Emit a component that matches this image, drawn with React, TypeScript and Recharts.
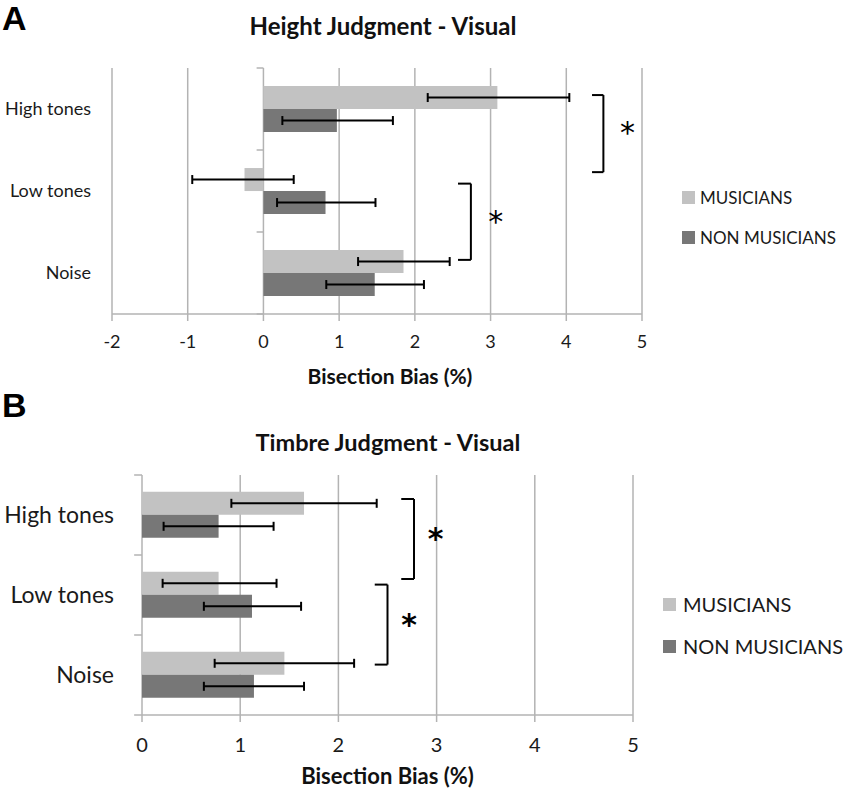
import React from 'react';
import {
  BarChart,
  Bar,
  XAxis,
  YAxis,
  CartesianGrid,
  ErrorBar,
  ReferenceLine,
  ReferenceDot,
  Legend,
  Label,
} from 'recharts';

// ---------- data ----------
const categories = ['High tones', 'Low tones', 'Noise'];
const seriesNames = ['MUSICIANS', 'NON MUSICIANS'];

// Panel A – Height judgment
const heightMusicians = [3.09, -0.25, 1.85];
const heightMusiciansLow = [2.17, -0.94, 1.25];
const heightMusiciansHigh = [4.04, 0.4, 2.46];
const heightNon = [0.97, 0.82, 1.47];
const heightNonLow = [0.25, 0.18, 0.83];
const heightNonHigh = [1.71, 1.48, 2.12];
const heightTicks = [-2, -1, 0, 1, 2, 3, 4, 5];

// Panel B – Timbre judgment
const timbreMusicians = [1.65, 0.78, 1.45];
const timbreMusiciansLow = [0.91, 0.21, 0.74];
const timbreMusiciansHigh = [2.39, 1.37, 2.16];
const timbreNon = [0.78, 1.12, 1.14];
const timbreNonLow = [0.22, 0.63, 0.63];
const timbreNonHigh = [1.34, 1.62, 1.65];
const timbreTicks = [0, 1, 2, 3, 4, 5];

// significance brackets (x in % units, y in category units from top)
const heightBrackets = [
  { tip: 4.34, spine: 4.49, from: 0.33, to: 1.27, starX: 4.81, starY: 0.72 },
  { tip: 2.57, spine: 2.74, from: 1.41, to: 2.34, starX: 3.07, starY: 1.81 },
];
const timbreBrackets = [
  { tip: 2.64, spine: 2.77, from: 0.3, to: 1.3, starX: 2.99, starY: 0.73 },
  { tip: 2.37, spine: 2.5, from: 1.37, to: 2.37, starX: 2.72, starY: 1.8 },
];
const categoryBoundaries = [0, 1, 2, 3];

// ---------- styles ----------
const FONT = 'Lato, "Open Sans", sans-serif';
const LIGHT = '#c2c2c2';
const DARK = '#777777';
const GRID = '#b3b3b3';
const TEXT = '#1a1a1a';

function buildRows(m, mLow, mHigh, n, nLow, nHigh) {
  return categories.map((cat, i) => ({
    cat,
    slot: i + 0.5,
    m: m[i],
    mErr: [m[i] - mLow[i], mHigh[i] - m[i]],
    n: n[i],
    nErr: [n[i] - nLow[i], nHigh[i] - n[i]],
  }));
}

const heightRows = buildRows(
  heightMusicians, heightMusiciansLow, heightMusiciansHigh,
  heightNon, heightNonLow, heightNonHigh
);
const timbreRows = buildRows(
  timbreMusicians, timbreMusiciansLow, timbreMusiciansHigh,
  timbreNon, timbreNonLow, timbreNonHigh
);

const makeLegend = (fontSize: number, rowH: number, gap: number) => (props: any) => (
  <div style={{ fontFamily: FONT }}>
    {(props.payload || []).map((e: any) => (
      <div key={e.value} style={{ display: 'flex', alignItems: 'center', height: rowH }}>
        <span
          style={{ display: 'inline-block', width: 13, height: 13, background: e.color, marginRight: gap }}
        />
        <span style={{ fontSize, color: TEXT, whiteSpace: 'nowrap' }}>{e.value}</span>
      </div>
    ))}
  </div>
);

const makeStar = (fs: number, weight: number) => (p: any) => (
  <text
    x={p.cx}
    y={p.cy + fs * 0.52}
    textAnchor="middle"
    fontSize={fs}
    fontWeight={weight}
    fontFamily="DejaVu Sans, sans-serif"
    fill="#000"
  >
    *
  </text>
);

type PanelProps = {
  rows: any[];
  height: number;
  margin: any;
  yWidth: number;
  domain: [number, number];
  ticks: number[];
  tickFont: number;
  tickMargin: number;
  catFont: number;
  catMargin: number;
  gap: string;
  titleFont: number;
  titleOffset: number;
  titleDx: number;
  brackets: any[];
  boundaryLen: number;
  starFont: number;
  starWeight: number;
  legendFont: number;
  legendRow: number;
  legendGap: number;
  legendLeft: number;
  legendTop: number;
};

function Panel(p: PanelProps) {
  return (
    <BarChart
      width={850}
      height={p.height}
      data={p.rows}
      layout="vertical"
      margin={p.margin}
      barCategoryGap={p.gap}
      barGap={0}
    >
      <CartesianGrid horizontal={false} stroke={GRID} strokeWidth={1.5} />
      <XAxis
        type="number"
        domain={p.domain}
        ticks={p.ticks}
        interval={0}
        height={40}
        tickSize={7}
        tickMargin={p.tickMargin}
        axisLine={{ stroke: GRID, strokeWidth: 1.5 }}
        tickLine={{ stroke: GRID, strokeWidth: 1.5 }}
        tick={{ fill: TEXT, fontSize: p.tickFont, fontFamily: FONT }}
      >
        <Label
          value="Bisection Bias (%)"
          position="bottom"
          offset={p.titleOffset}
          dx={p.titleDx}
          style={{ fontWeight: 700, fontSize: p.titleFont, fontFamily: FONT, fill: '#111' }}
        />
      </XAxis>
      <YAxis
        type="category"
        dataKey="cat"
        width={p.yWidth}
        tickSize={0}
        tickMargin={p.catMargin}
        axisLine={false}
        tickLine={false}
        tick={{ fill: TEXT, fontSize: p.catFont, fontFamily: FONT }}
      />
      <YAxis yAxisId="ann" dataKey="slot" type="number" domain={[0, 3]} hide />
      {categoryBoundaries.map((b) => (
        <ReferenceLine
          key={'b' + b}
          yAxisId="ann"
          segment={[{ x: -p.boundaryLen, y: b }, { x: 0, y: b }]}
          stroke={GRID}
          strokeWidth={1.5}
          ifOverflow="visible"
        />
      ))}
      <Bar dataKey="m" name={seriesNames[0]} fill={LIGHT} isAnimationActive={false}>
        <ErrorBar dataKey="mErr" direction="x" width={4.5} stroke="#000" strokeWidth={2} />
      </Bar>
      <Bar dataKey="n" name={seriesNames[1]} fill={DARK} isAnimationActive={false}>
        <ErrorBar dataKey="nErr" direction="x" width={4.5} stroke="#000" strokeWidth={2} />
      </Bar>
      {p.brackets.map((br, i) => (
        <ReferenceLine
          key={'t' + i}
          yAxisId="ann"
          segment={[{ x: br.tip, y: br.from }, { x: br.spine, y: br.from }]}
          stroke="#000"
          strokeWidth={2}
          ifOverflow="visible"
        />
      ))}
      {p.brackets.map((br, i) => (
        <ReferenceLine
          key={'s' + i}
          yAxisId="ann"
          segment={[{ x: br.spine, y: br.from }, { x: br.spine, y: br.to }]}
          stroke="#000"
          strokeWidth={2}
          ifOverflow="visible"
        />
      ))}
      {p.brackets.map((br, i) => (
        <ReferenceLine
          key={'e' + i}
          yAxisId="ann"
          segment={[{ x: br.tip, y: br.to }, { x: br.spine, y: br.to }]}
          stroke="#000"
          strokeWidth={2}
          ifOverflow="visible"
        />
      ))}
      {p.brackets.map((br, i) => (
        <ReferenceDot
          key={'d' + i}
          yAxisId="ann"
          x={br.starX}
          y={br.starY}
          r={0}
          ifOverflow="visible"
          shape={makeStar(p.starFont, p.starWeight)}
        />
      ))}
      <Legend
        layout="vertical"
        align="center"
        verticalAlign="middle"
        content={makeLegend(p.legendFont, p.legendRow, p.legendGap)}
        wrapperStyle={{ left: p.legendLeft, top: p.legendTop, width: 200, height: 2 * p.legendRow }}
      />
    </BarChart>
  );
}

export default function App() {
  return (
    <div style={{ position: 'absolute', left: 0, top: 0, width: 850, height: 793, background: '#fff' }}>
      <div style={{ position: 'absolute', left: 0, top: 0 }}>
        <Panel
          rows={heightRows}
          height={392}
          margin={{ top: 68, right: 208, bottom: 38, left: 0 }}
          yWidth={112}
          domain={[-2, 5]}
          ticks={heightTicks}
          tickFont={18}
          tickMargin={14}
          catFont={18}
          catMargin={21}
          gap="22%"
          titleFont={21}
          titleOffset={15.5}
          titleDx={13}
          brackets={heightBrackets}
          boundaryLen={0.09}
          starFont={30}
          starWeight={400}
          legendFont={17}
          legendRow={40}
          legendGap={5}
          legendLeft={682}
          legendTop={177}
        />
      </div>
      <div style={{ position: 'absolute', left: 0, top: 395 }}>
        <Panel
          rows={timbreRows}
          height={398}
          margin={{ top: 80, right: 217, bottom: 38, left: 0 }}
          yWidth={142}
          domain={[0, 5]}
          ticks={timbreTicks}
          tickFont={20}
          tickMargin={16}
          catFont={23}
          catMargin={28}
          gap="21%"
          titleFont={22}
          titleOffset={13}
          titleDx={0}
          brackets={timbreBrackets}
          boundaryLen={0.08}
          starFont={30}
          starWeight={700}
          legendFont={20}
          legendRow={42}
          legendGap={7}
          legendLeft={663}
          legendTop={188}
        />
      </div>
      <svg
        width={850}
        height={793}
        style={{ position: 'absolute', left: 0, top: 0, pointerEvents: 'none' }}
      >
        <text x={2} y={30} fontFamily="Liberation Sans, Arial, sans-serif" fontWeight={700} fontSize={34} fill="#000">
          A
        </text>
        <text x={383} y={35} textAnchor="middle" fontFamily={FONT} fontWeight={700} fontSize={24} fill="#111">
          Height Judgment - Visual
        </text>
        <text x={2} y={417} fontFamily="Liberation Sans, Arial, sans-serif" fontWeight={700} fontSize={34} fill="#000">
          B
        </text>
        <text x={388} y={451} textAnchor="middle" fontFamily={FONT} fontWeight={700} fontSize={23.5} fill="#111">
          Timbre Judgment - Visual
        </text>
      </svg>
    </div>
  );
}
